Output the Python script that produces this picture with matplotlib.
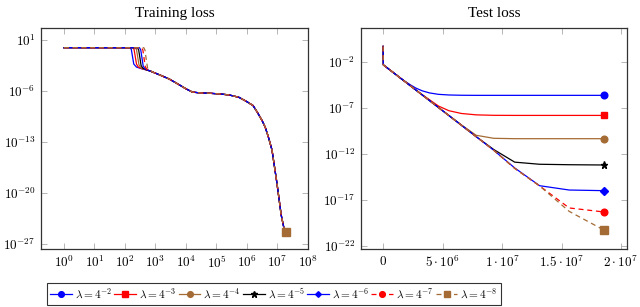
import numpy as np
import matplotlib
matplotlib.use("Agg")
import matplotlib.pyplot as plt
from matplotlib.ticker import FixedLocator, FixedFormatter
from matplotlib.lines import Line2D

plt.rcParams['mathtext.fontset'] = 'cm'
plt.rcParams['font.family'] = ['Liberation Serif', 'DejaVu Serif']

labels = [r'$\lambda = 4^{-2}$', r'$\lambda = 4^{-3}$', r'$\lambda = 4^{-4}$', r'$\lambda = 4^{-5}$',
          r'$\lambda = 4^{-6}$', r'$\lambda = 4^{-7}$', r'$\lambda = 4^{-8}$']
BROWN = '#a56b34'
colors = ['#0000ff', '#ff0000', BROWN, 'black', '#0000ff', '#ff0000', BROWN]
markers = ['o', 's', 'o', '*', 'D', 'o', 's']
msizes = [4.8, 5.0, 4.8, 5.2, 3.6, 4.8, 5.2]
styles = ['-', '-', '-', '-', '-', (0, (4, 3)), (0, (4, 3))]

# ---- training loss: log10(step), log10(loss)
train_head_logstep = [
    [0, 2.17, 2.21, 2.25, 2.29, 2.38, 2.55, 2.7, 2.85],
    [0, 2.26, 2.30, 2.34, 2.38, 2.44, 2.58, 2.75, 2.90],
    [0, 2.34, 2.38, 2.42, 2.46, 2.52, 2.65, 2.80, 2.92],
    [0, 2.41, 2.45, 2.49, 2.53, 2.59, 2.70, 2.83, 2.94],
    [0, 2.48, 2.52, 2.56, 2.60, 2.66, 2.75, 2.86, 2.95],
    [0, 2.55, 2.59, 2.63, 2.67, 2.72, 2.80, 2.88, 2.96],
    [0, 2.62, 2.66, 2.70, 2.74, 2.78, 2.85, 2.91, 2.97],
]
train_head_logloss = [
    [-0.05, -0.06, -0.30, -1.30, -2.30, -2.72, -2.95, -3.10, -3.30],
    [-0.05, -0.06, -0.30, -1.30, -2.30, -2.72, -2.97, -3.15, -3.38],
    [-0.05, -0.06, -0.32, -1.35, -2.40, -2.80, -3.02, -3.22, -3.42],
    [-0.05, -0.06, -0.35, -1.40, -2.50, -2.88, -3.08, -3.27, -3.45],
    [-0.05, -0.06, -0.38, -1.50, -2.60, -2.95, -3.12, -3.30, -3.47],
    [-0.05, -0.06, -0.40, -1.60, -2.70, -3.02, -3.18, -3.33, -3.49],
    [-0.05, -0.06, -0.42, -1.70, -2.80, -3.10, -3.25, -3.37, -3.50],
]
train_tail_logstep = [3.0, 3.2, 3.45, 3.78, 4.0, 4.21, 4.5, 4.76, 5.1, 5.41, 5.73, 5.95,
                      6.2, 6.35, 6.5, 6.6, 6.7, 6.82, 6.98, 7.12, 7.22, 7.27]
train_tail_logloss = [-3.55, -3.9, -4.35, -5.15, -5.7, -6.15, -6.28, -6.31, -6.4, -6.54, -6.86, -7.35,
                      -8.0, -9.0, -10.1, -11.0, -12.3, -14.1, -18.6, -23.0, -25.0, -25.4]

# ---- test loss: step, log10(loss)
test_steps = [0, 2e4, 1.0e6, 1.4e6, 1.65e6, 1.96e6, 2.33e6, 2.77e6, 3.29e6, 3.91e6, 4.65e6,
              5.53e6, 6.58e6, 7.82e6, 9.30e6, 1.106e7, 1.315e7, 1.564e7, 1.86e7]
test_logloss = [
    [-0.34, -2.35, -3.33, -3.72, -3.96, -4.24, -4.55, -4.88, -5.17, -5.40, -5.55,
     -5.62, -5.65, -5.66, -5.66, -5.66, -5.66, -5.66, -5.66],
    [-0.34, -2.35, -3.33, -3.73, -3.98, -4.29, -4.66, -5.09, -5.59, -6.15, -6.82,
     -7.33, -7.63, -7.78, -7.83, -7.84, -7.84, -7.84, -7.84],
    [-0.34, -2.35, -3.33, -3.73, -3.98, -4.29, -4.66, -5.10, -5.62, -6.24, -6.98,
     -7.84, -8.87, -10.00, -10.33, -10.37, -10.37, -10.37, -10.37],
    [-0.34, -2.35, -3.33, -3.73, -3.98, -4.29, -4.66, -5.10, -5.62, -6.24, -6.98,
     -7.86, -8.91, -10.15, -11.55, -12.92, -13.15, -13.20, -13.23],
    [-0.34, -2.35, -3.33, -3.73, -3.98, -4.29, -4.66, -5.10, -5.62, -6.24, -6.98,
     -7.86, -8.91, -10.15, -11.63, -13.55, -15.48, -15.95, -16.02],
    [-0.34, -2.35, -3.33, -3.73, -3.98, -4.29, -4.66, -5.10, -5.62, -6.24, -6.98,
     -7.86, -8.91, -10.15, -11.63, -13.60, -15.50, -17.90, -18.34],
    [-0.34, -2.35, -3.33, -3.73, -3.98, -4.29, -4.66, -5.10, -5.62, -6.24, -6.98,
     -7.86, -8.91, -10.15, -11.63, -13.60, -15.50, -18.27, -20.33],
]

train_yticks = [1, -6, -13, -20, -27]
train_xticks = list(range(0, 9))
test_yticks = [-2, -7, -12, -17, -22]
test_xticks = [0, 5e6, 1e7, 1.5e7, 2e7]
test_xticklabels = ['$0$', r'$5\cdot10^{6}$', r'$1\cdot10^{7}$', r'$1.5\cdot10^{7}$', r'$2\cdot10^{7}$']

fig = plt.figure(figsize=(6.4, 3.07), dpi=100)
ax1 = fig.add_axes([41/640, 1-249/307, 267/640, 221/307])
ax2 = fig.add_axes([361/640, 1-249/307, 266/640, 221/307])

lw = 0.9
for i in range(7):
    xs = 10.0 ** np.array(train_head_logstep[i] + train_tail_logstep)
    ys = 10.0 ** np.array(train_head_logloss[i] + train_tail_logloss)
    ax1.plot(xs, ys, color=colors[i], ls=styles[i], lw=lw)
    ax1.plot(xs[-1:], ys[-1:], color=colors[i], marker=markers[i], ms=msizes[i], ls='none')

    ts = np.array(test_steps)
    vs = 10.0 ** np.array(test_logloss[i])
    ax2.plot(ts, vs, color=colors[i], ls=styles[i], lw=lw)
    ax2.plot(ts[-1:], vs[-1:], color=colors[i], marker=markers[i], ms=msizes[i], ls='none')

ax1.set_xscale('log')
ax1.set_yscale('log')
ax1.set_xlim(10**-0.75, 10**8)
ax1.set_ylim(10**-27.7, 10**2.65)
ax1.xaxis.set_major_locator(FixedLocator([10.0**k for k in train_xticks]))
ax1.xaxis.set_major_formatter(FixedFormatter([r'$10^{%d}$' % k for k in train_xticks]))
ax1.yaxis.set_major_locator(FixedLocator([10.0**k for k in train_yticks]))
ax1.yaxis.set_major_formatter(FixedFormatter([r'$10^{%d}$' % k for k in train_yticks]))
ax1.xaxis.set_minor_locator(FixedLocator([]))
ax1.yaxis.set_minor_locator(FixedLocator([]))

ax2.set_yscale('log')
ax2.set_xlim(-1.86e6, 2.05e7)
ax2.set_ylim(10**-22.36, 10**1.66)
ax2.xaxis.set_major_locator(FixedLocator(test_xticks))
ax2.xaxis.set_major_formatter(FixedFormatter(test_xticklabels))
ax2.yaxis.set_major_locator(FixedLocator([10.0**k for k in test_yticks]))
ax2.yaxis.set_major_formatter(FixedFormatter([r'$10^{%d}$' % k for k in test_yticks]))
ax2.yaxis.set_minor_locator(FixedLocator([]))

for ax, title in [(ax1, 'Training loss'), (ax2, 'Test loss')]:
    ax.tick_params(direction='in', top=True, right=True, length=4, width=0.6,
                   color='#aaaaaa', labelsize=9.5, pad=4)
    for s in ax.spines.values():
        s.set_color('#333333')
        s.set_linewidth(0.9)
    ax.set_title(title, fontsize=11, pad=8)

handles = [Line2D([0], [0], color=colors[i], ls=styles[i], lw=lw, marker=markers[i],
                  ms=msizes[i] - 0.7) for i in range(7)]
leg = fig.legend(handles, labels, loc='center', bbox_to_anchor=(274/640, 1 - 294/307), ncol=7,
                 frameon=True, fancybox=False, edgecolor='black', fontsize=8.2,
                 handlelength=1.9, handletextpad=0.25, columnspacing=0.2, borderpad=0.3,
                 borderaxespad=0)
leg.get_frame().set_linewidth(0.8)

fig.savefig('out.png', dpi=100)
